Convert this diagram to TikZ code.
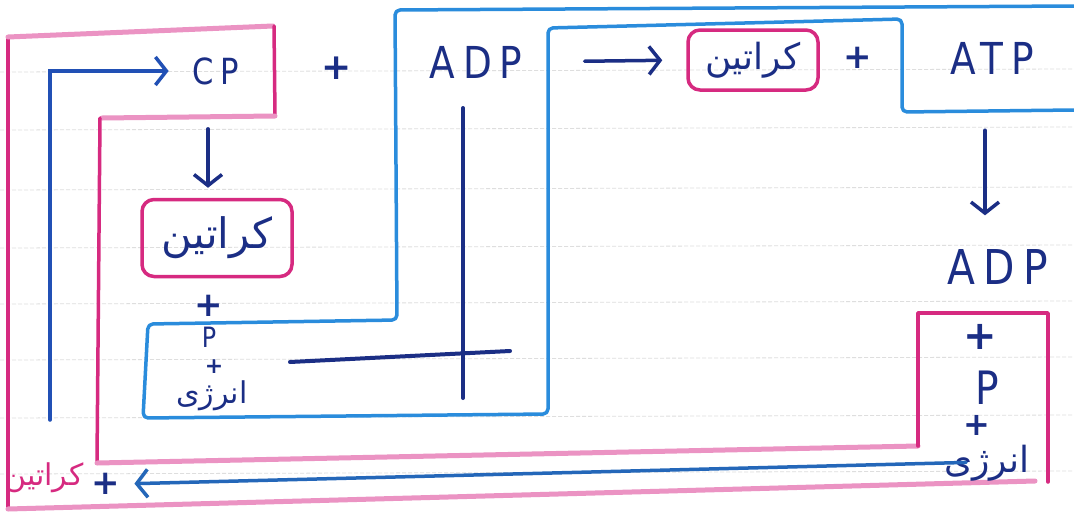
\documentclass[tikz,border=0pt]{standalone}
\usepackage{fontspec}
\setmainfont{DejaVu Sans}
\newfontfamily\fa[Script=Arabic]{DejaVu Sans}
\newfontfamily\lat[LetterSpace=18,FakeStretch=0.85]{DejaVu Sans}
\TeXXeTstate=1
\usetikzlibrary{arrows.meta}
\definecolor{ink}{HTML}{1B2E85}
\definecolor{blueA}{HTML}{2150B5}
\definecolor{sky}{HTML}{2A8CDC}
\definecolor{pinkD}{HTML}{D62A80}
\definecolor{pinkL}{HTML}{EB93C3}
\definecolor{ruleg}{HTML}{DEDEDE}
\begin{document}
\begin{tikzpicture}[x=1pt,y=-1pt,
  latin/.style={text=ink, inner sep=0pt, font={\lat\fontsize{#1}{#1}\selectfont}},
  plusn/.style={text=ink, inner sep=0pt, font={\bfseries\fontsize{#1}{#1}\selectfont}},
  persian/.style={text=ink, inner sep=0pt, font={\fa\fontsize{#1}{#1}\selectfont}},
  kbox/.style={draw=pinkD, line width=3.5pt, rounded corners=12pt, inner sep=0pt},
  arr/.style={line width=3.5pt, line cap=round, -{Straight Barb[length=11pt,width=28pt]}},
  pinkv/.style={pinkD, line width=3.5pt, line cap=round},
  pinkh/.style={pinkL, line width=5pt, line cap=round},
]
\useasboundingbox (0,0) rectangle (1074,517);
\fill[white] (0,0) rectangle (1074,517);
% ruled paper lines
\foreach \yy in {72,130,190,248,304,360,418,474}
  \draw[ruleg, line width=0.8pt, dash pattern=on 4pt off 2pt] (0,\yy) -- (1074,\yy-3);

% pink frame
\draw[pinkv] (8,508) -- (8,37);
\draw[pinkh] (8,37) -- (273,26);
\draw[pinkv] (274,26) -- (275,115);
\draw[pinkh] (275,116) -- (102,118);
\draw[pinkv] (100,118) -- (97,462);
\draw[pinkh] (97,463) -- (918,446);
\draw[pinkv, line join=round] (918,446) -- (918,313) -- (1048,313) -- (1048,482);
\draw[pinkh] (8,509) -- (1035,481);

% light blue frame
\draw[sky, line width=3.5pt, line join=round, rounded corners=5pt]
  (1074,6) -- (395,10) -- (397,320) -- (148,324) -- (143,418) -- (548,414)
  -- (548,28) -- (902,19) -- (902,112) -- (1074,110);

% dark cross
\draw[ink, line width=4pt, line cap=round] (463,108) -- (463,398);
\draw[ink, line width=4pt, line cap=round] (290,362) -- (510,351);

% nodes
\node[latin=36] (cp) at (216,71) {CP};
\node[plusn=36] (p1) at (337,68) {+};
\node[latin=44] (adp1) at (476,62) {ADP};
\node[kbox, minimum width=130, minimum height=60] (kr2) at (753,60) {\fa\fontsize{36}{36}\selectfont\color{ink}\beginR کراتین\endR};
\node[plusn=34] (p2) at (858,58) {+};
\node[latin=44] (atp) at (992,58) {ATP};
\node[latin=48] (adp2) at (998,267) {ADP};
\node[plusn=40] (rp1) at (980,337) {+};
\node[latin=46] (rP) at (987,388) {P};
\node[plusn=32] (rp2) at (977,425) {+};
\node[persian=36] (ren) at (987,463) {\beginR انرژی\endR};

\node[kbox, minimum width=150, minimum height=77] (kr1) at (217,238) {\fa\fontsize{42}{42}\selectfont\color{ink}\beginR کراتین\endR};
\node[plusn=34] (lp1) at (209,306) {+};
\node[latin=28] (lP) at (209,337) {P};
\node[plusn=22] (lp2) at (214,367) {+};
\node[persian=30] (len) at (212,396) {\beginR انرژی\endR};

\node[persian=30, text=pinkD] (kr3) at (44,478) {\beginR کراتین\endR};
\node[plusn=34] (bp) at (106,484) {+};

% connectors
\coordinate (lstart) at (50,420);
\draw[arr, blueA] (lstart) |- (cp) [shorten >=24pt];
\draw[arr, ink, shorten <=44pt, shorten >=10pt] ([xshift=-8]cp.south) -- ([xshift=-9]kr1.north);
\draw[arr, ink, shorten <=62pt, shorten >=24pt] (adp1.east) -- (kr2.west);
\draw[arr, ink, shorten <=56pt, shorten >=34pt] ([xshift=-7]atp.south) -- ([xshift=-13]adp2.north);
\draw[arr, sky!60!ink, shorten <=-22pt, shorten >=14pt] (ren.west) -- (bp.east);
\end{tikzpicture}
\end{document}
